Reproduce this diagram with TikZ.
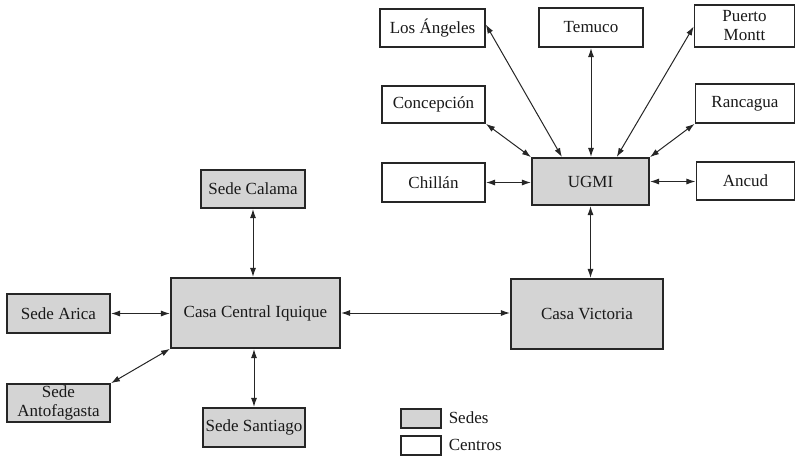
\documentclass[tikz,border=0pt]{standalone}
\usepackage{fontspec}
\setmainfont{Liberation Serif}
\usetikzlibrary{arrows.meta,calc}
\definecolor{sedefill}{gray}{0.83}
\begin{document}
\begin{tikzpicture}[x=1pt,y=-1pt,
  every node/.style={font=\fontsize{17}{19}\selectfont, text=black!90},
  unit/.style={draw=black!85, line width=1.1pt, inner sep=0pt, align=center},
  sede/.style={unit, fill=sedefill},
  centro/.style={unit, fill=white},
  link/.style={{Latex[length=9pt,width=6pt]}-{Latex[length=9pt,width=6pt]}, line width=1pt, draw=black!85, shorten <=0.5pt, shorten >=0.5pt}]
\useasboundingbox (0,0) rectangle (796,456);

% Centros around UGMI
\node[centro, minimum width=105pt, minimum height=38pt] (losangeles) at (432.5,28) {Los Ángeles};
\node[centro, minimum width=104pt, minimum height=39pt] (temuco) at (591,27.5) {Temuco};
\node[centro, minimum width=100pt, minimum height=42pt] (puerto) at (744.5,26) {Puerto\\Montt};
\node[centro, minimum width=103pt, minimum height=37pt] (concepcion) at (433.5,104.5) {Concepción};
\node[centro, minimum width=99pt, minimum height=39pt] (rancagua) at (745,103.5) {Rancagua};
\node[centro, minimum width=103pt, minimum height=39pt] (chillan) at (433.5,182.5) {Chillán};
\node[sede, minimum width=117pt, minimum height=47pt] (ugmi) at (590.5,181.5) {UGMI};
\node[centro, minimum width=98pt, minimum height=38pt] (ancud) at (745.5,181) {Ancud};

% Sedes
\node[sede, minimum width=104pt, minimum height=38pt] (calama) at (253,189) {Sede Calama};
\node[sede, minimum width=169pt, minimum height=70pt] (iquique) at (255.5,313) {Casa Central Iquique};
\node[sede, minimum width=103pt, minimum height=39pt] (arica) at (58.5,313.5) {Sede Arica};
\node[sede, minimum width=103pt, minimum height=38pt] (antofagasta) at (58.5,403) {Sede\\Antofagasta};
\node[sede, minimum width=102pt, minimum height=39pt] (santiago) at (254,427.5) {Sede Santiago};
\node[sede, minimum width=152pt, minimum height=70pt] (victoria) at (587,314) {Casa Victoria};

% Legend
\node[sede, minimum width=40pt, minimum height=19pt] (legsede) at (421,418.5) {};
\node[centro, minimum width=40pt, minimum height=19pt] (legcentro) at (421,445.5) {};
\node[anchor=west, inner sep=0pt] (legsedetxt) at ($(legsede.east)+(7,-1)$) {Sedes};
\node[anchor=west, inner sep=0pt] (legcentrotxt) at ($(legcentro.east)+(7,-1)$) {Centros};

% Links to UGMI
\draw[link] ($(losangeles.east)+(0,-4)$) -- ($(ugmi.north west)!0.26!(ugmi.north east)$);
\draw[link] (temuco.south) -- (temuco.south |- ugmi.north);
\draw[link] (puerto.west) -- ($(ugmi.north west)!0.72!(ugmi.north east)$);
\draw[link] (concepcion.south east) -- (ugmi.north west);
\draw[link] (rancagua.south west) -- (ugmi.north east);
\draw[link] (chillan.east) -- (chillan.east -| ugmi.west);
\draw[link] (ugmi.east) -- (ugmi.east -| ancud.west);
\draw[link] (ugmi.south) -- (ugmi.south |- victoria.north);

% Links to Casa Central Iquique
\draw[link] (iquique.east) -- (iquique.east -| victoria.west);
\draw[link] (calama.south) -- (calama.south |- iquique.north);
\draw[link] (arica.east) -- (arica.east -| iquique.west);
\draw[link] (antofagasta.north east) -- (iquique.south west);
\draw[link] (santiago.north |- iquique.south) -- (santiago.north);
\end{tikzpicture}
\end{document}
